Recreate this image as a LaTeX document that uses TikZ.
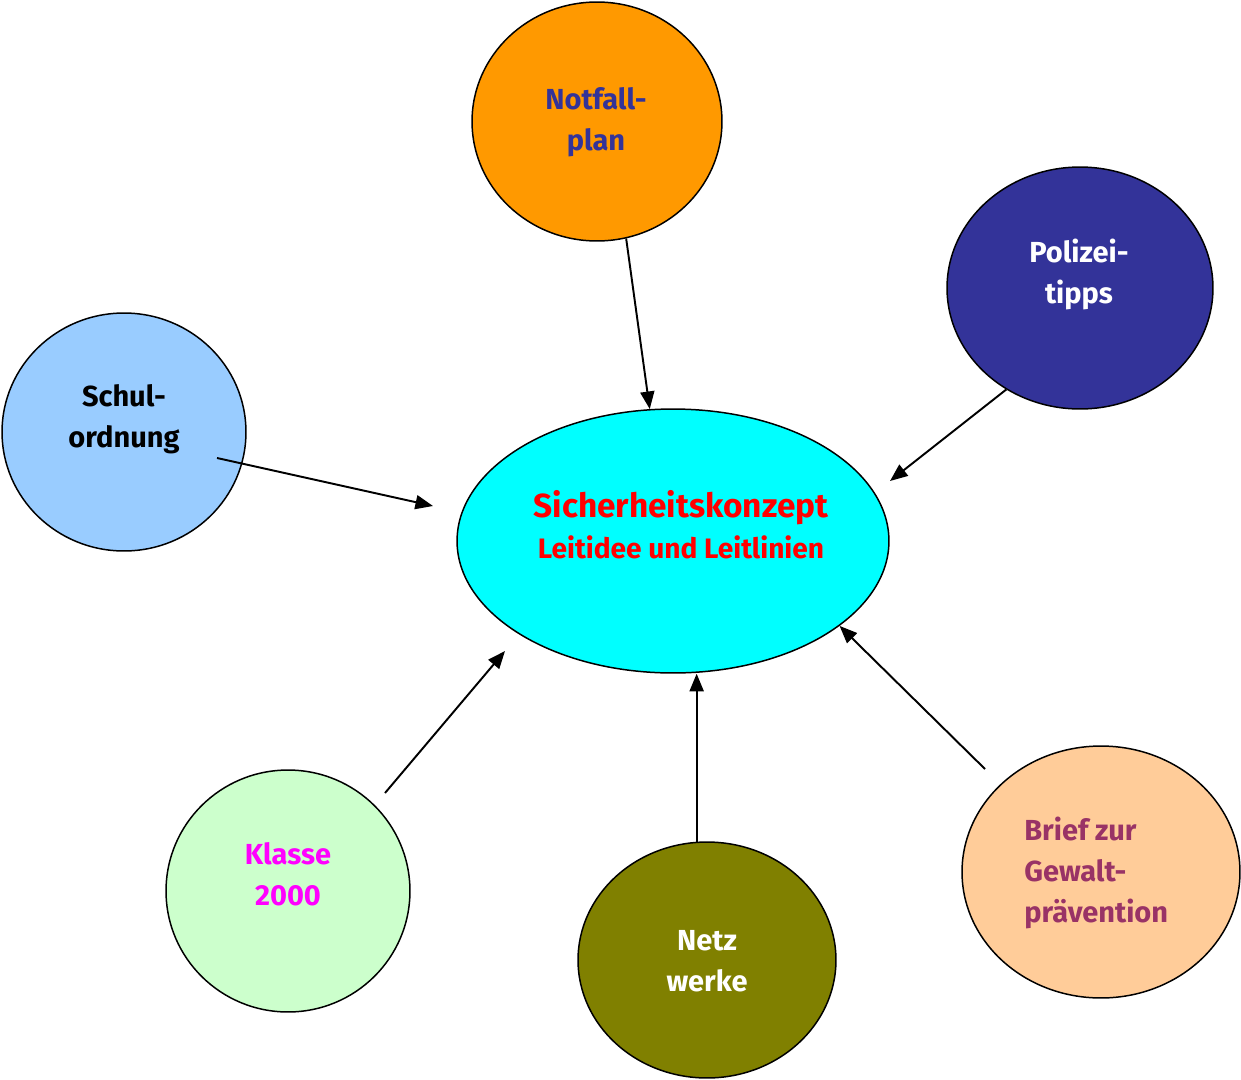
\documentclass[tikz,border=0pt]{standalone}
\usepackage{fontspec}
\setmainfont{Fira Sans}
\usetikzlibrary{shapes.geometric, arrows.meta}
\definecolor{notfallfill}{HTML}{FF9900}
\definecolor{darkblue}{HTML}{333399}
\definecolor{lightblue}{HTML}{99CCFF}
\definecolor{kernfill}{HTML}{00FFFF}
\definecolor{kerntext}{HTML}{FF0000}
\definecolor{palegreen}{HTML}{CCFFCC}
\definecolor{pink}{HTML}{FF00FF}
\definecolor{olive}{HTML}{808000}
\definecolor{peach}{HTML}{FFCC99}
\definecolor{plum}{HTML}{993366}
\tikzstyle{blob}=[ellipse, draw=black, line width=0.85pt, inner sep=0pt]
\tikzstyle{txt}=[align=center, inner sep=0pt, font=\bfseries\fontsize{16.5}{23.3}\selectfont]
\tikzstyle{arrow}=[line width=1.1pt, -{Triangle[length=10pt,width=8pt]}, draw=black]

\begin{document}
\begin{tikzpicture}[x=0.02cm, y=-0.02cm]
    \useasboundingbox (0,0) rectangle (1241,1079);
    \node (notfall) [blob, fill=notfallfill, minimum width=5cm, minimum height=4.78cm] at (597,121.5) {};
    \node (polizei) [blob, fill=darkblue, minimum width=5.32cm, minimum height=4.84cm] at (1080,288) {};
    \node (schul) [blob, fill=lightblue, minimum width=4.88cm, minimum height=4.76cm] at (124,432) {};
    \node (kern) [blob, fill=kernfill, minimum width=8.64cm, minimum height=5.28cm] at (673,541) {};
    \node (klasse) [blob, fill=palegreen, minimum width=4.88cm, minimum height=4.84cm] at (288,891) {};
    \node (netz) [blob, fill=olive, minimum width=5.16cm, minimum height=4.72cm] at (707,960) {};
    \node (brief) [blob, fill=peach, minimum width=5.56cm, minimum height=5.04cm] at (1101,872) {};

    \node (notfall-t) [txt, text=darkblue] at (596,122) {Notfall-\\plan};
    \node (polizei-t) [txt, text=white] at (1079,274) {Polizei-\\tipps};
    \node (schul-t) [txt, text=black] at (124,419) {Schul-\\ordnung};
    \node (kern-t) [txt, text=kerntext] at (681,525) {{\fontsize{19}{23}\selectfont Sicherheitskonzept}\\{\fontsize{16}{23}\selectfont Leitidee und Leitlinien}};
    \node (klasse-t) [txt, text=pink] at (288,874) {Klasse\\2000};
    \node (netz-t) [txt, text=white] at (707,961) {Netz\\werke};
    \node (brief-t) [txt, text=plum, align=left, anchor=west] at (1024,873) {Brief zur\\Gewalt-\\prävention};

    \coordinate (schul-out) at (217,458);
    \coordinate (schul-in) at (433,506);
    \coordinate (polizei-in) at (890,481);
    \coordinate (klasse-out) at (385,793);
    \coordinate (klasse-in) at (505,651);
    \coordinate (brief-out) at (985,769);

    \draw[arrow] (notfall.-76) -- (kern.100);
    \draw[arrow] (polizei.234) -- (polizei-in);
    \draw[arrow] (schul-out) -- (schul-in);
    \draw[arrow] (klasse-out) -- (klasse-in);
    \draw[arrow] (netz.95) -- (netz.95 |- kern.south);
    \draw[arrow] (brief-out) -- (kern.-27);
\end{tikzpicture}
\end{document}
